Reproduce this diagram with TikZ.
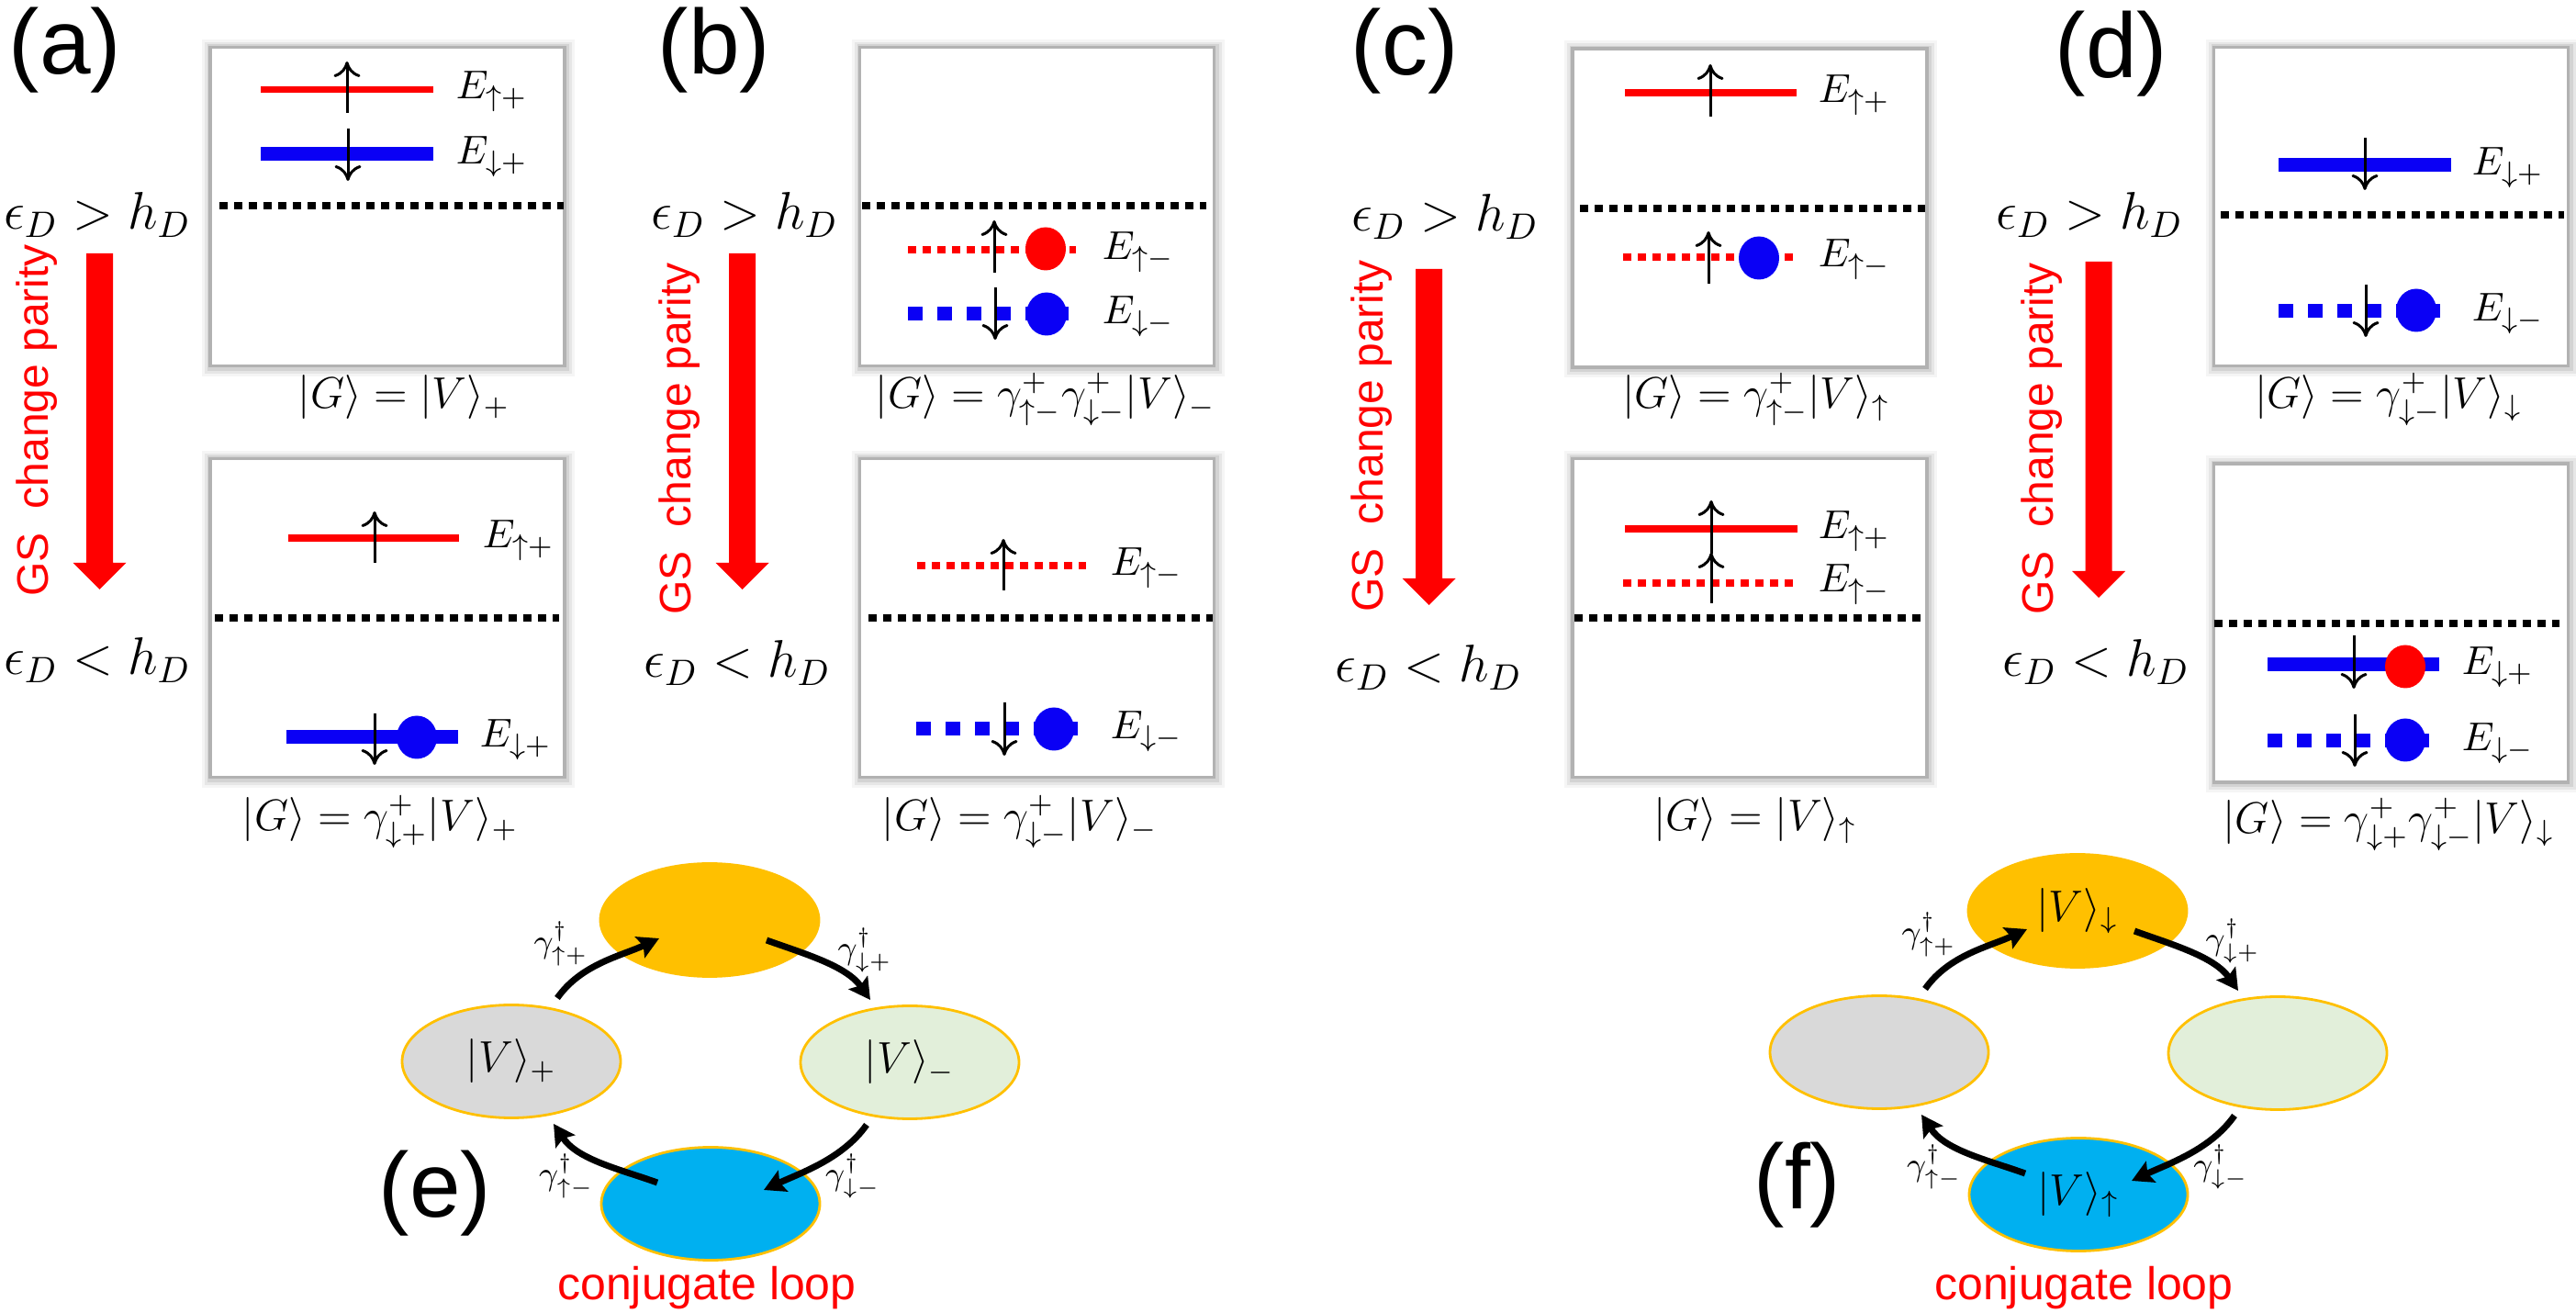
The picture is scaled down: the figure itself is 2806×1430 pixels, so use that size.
\documentclass[tikz,border=0pt]{standalone}
\usepackage{fontspec}
\newfontfamily\hel{Liberation Sans}
\usetikzlibrary{arrows.meta,shapes.geometric}
\definecolor{lvred}{RGB}{255,0,0}
\definecolor{lvblue}{RGB}{10,0,245}
\definecolor{orng}{RGB}{255,192,0}
\definecolor{grayfill}{RGB}{217,217,217}
\definecolor{greenfill}{RGB}{226,239,218}
\definecolor{bluefill}{RGB}{0,176,240}
\definecolor{boxline}{RGB}{178,178,178}
\tikzset{
  ebox/.style={draw=boxline, fill=white, line width=0.8pt, minimum width=96.5pt, minimum height=86.75pt, inner sep=0pt},
  panel/.style={font=\hel\fontsize{25}{30}\selectfont, inner sep=0pt},
  cond/.style={font=\fontsize{14.5}{17}\selectfont, inner sep=0pt, anchor=base},
  elab/.style={font=\fontsize{11}{13}\selectfont, inner sep=0pt, anchor=base west},
  gslab/.style={font=\fontsize{12}{14}\selectfont, inner sep=0pt, anchor=base},
  gstext/.style={font=\hel\fontsize{12}{14}\selectfont, text=lvred, rotate=90, inner sep=0pt},
  redsolid/.style={draw=lvred, line width=1.9pt},
  bluesolid/.style={draw=lvblue, line width=3.75pt},
  reddot/.style={draw=lvred, line width=2pt, dash pattern=on 2.25pt off 1.75pt},
  bluedash/.style={draw=lvblue, line width=3.75pt, dash pattern=on 4pt off 4pt},
  fermi/.style={draw=black, line width=2pt, dash pattern=on 2.25pt off 1.75pt},
  spin/.style={draw=black, line width=0.75pt, -{Computer Modern Rightarrow[length=4.25pt,width=7.25pt]}},
  dotblue/.style={ellipse, fill=lvblue, minimum width=11pt, minimum height=11.75pt, inner sep=0pt},
  dotred/.style={ellipse, fill=lvred, minimum width=11pt, minimum height=11.75pt, inner sep=0pt},
  loopell/.style={ellipse, minimum width=59.5pt, minimum height=30.75pt, inner sep=0pt, line width=0.7pt, font=\fontsize{12}{14}\selectfont},
  looparrow/.style={draw=black, line width=1.75pt, -{Stealth[length=5.75pt,width=6.25pt,inset=1pt]}},
  glab/.style={font=\fontsize{9}{11}\selectfont, inner sep=0pt},
  conj/.style={font=\hel\fontsize{12.5}{15}\selectfont, text=lvred, inner sep=0pt}
}
\newcommand\gsarrow[3]{\fill[lvred] (#1-14.5,#2) -- (#1+14.5,#2) -- (#1+14.5,#3) -- (#1+29,#3) -- (#1,#3+29) -- (#1-29,#3) -- (#1-14.5,#3) -- cycle;}
\newcommand\loopdiag[5]{%
  \node[loopell, fill=orng, draw=orng] (#1top) at (0,0) {#2};
  \node[loopell, fill=grayfill, draw=orng] (#1left) at (-216,154) {#3};
  \node[loopell, fill=greenfill, draw=orng] (#1right) at (218,155) {#4};
  \node[loopell, fill=bluefill, draw=orng] (#1bot) at (1,309) {#5};
  \coordinate (#1a1s) at (-166,85);  \coordinate (#1a1e) at (-55,20);
  \coordinate (#1a2s) at (62,22);    \coordinate (#1a2e) at (175,87);
  \coordinate (#1a3s) at (171,223);  \coordinate (#1a3e) at (59,294);
  \coordinate (#1a4s) at (-57,286);  \coordinate (#1a4e) at (-170,222);
  \draw[looparrow] (#1a1s) .. controls +(26,-37) and +(-41,19) .. (#1a1e);
  \draw[looparrow] (#1a2s) .. controls +(42,15) and +(-26,-37) .. (#1a2e);
  \draw[looparrow] (#1a3s) .. controls +(-26,37) and +(41,-19) .. (#1a3e);
  \draw[looparrow] (#1a4s) .. controls +(-42,-15) and +(26,39) .. (#1a4e);
  \node[glab] (#1g1) at (-162,26) {$\gamma^\dagger_{\uparrow+}$};
  \node[glab] (#1g2) at (169,33) {$\gamma^\dagger_{\downarrow+}$};
  \node[glab] (#1g3) at (-156,279) {$\gamma^\dagger_{\uparrow-}$};
  \node[glab] (#1g4) at (156,279) {$\gamma^\dagger_{\downarrow-}$};
}
\begin{document}
\begin{tikzpicture}[x=0.25pt,y=-0.25pt]
\fill[white] (0,0) rectangle (2806,1430);
\useasboundingbox (0,0) rectangle (2806,1430);
% boxes with soft shadow
\foreach \cx/\cy/\nm in {422/225/ta, 422/673/ba, 1129.5/225/tb, 1129.5/673/bb, 1906/226.5/tc, 1906/673/bc, 2604.5/225/td, 2604.5/678.5/bd}{
  \fill[black,opacity=0.04] (\cx-202,\cy-182) rectangle (\cx+204,\cy+185);
  \fill[black,opacity=0.06] (\cx-199,\cy-179) rectangle (\cx+201,\cy+182);
  \fill[black,opacity=0.08] (\cx-196,\cy-176.5) rectangle (\cx+198,\cy+179);
  \node[ebox] (\nm) at (\cx,\cy) {};
}
% panel labels
\node[panel] (la) at (71,55) {(a)};
\node[panel] (lb) at (778,55) {(b)};
\node[panel] (lc) at (1530,56) {(c)};
\node[panel] (ld) at (2300,59) {(d)};
\node[panel] (le) at (474,1300) {(e)};
\node[panel] (lf) at (1958,1291) {(f)};
% conditions
\node[cond] (ca1) at (106,250) {$\epsilon_D > h_D$};
\node[cond] (ca2) at (106,735) {$\epsilon_D < h_D$};
\node[cond] (cb1) at (811,250) {$\epsilon_D > h_D$};
\node[cond] (cb2) at (803,738) {$\epsilon_D < h_D$};
\node[cond] (cc1) at (1574,252) {$\epsilon_D > h_D$};
\node[cond] (cc2) at (1556,743) {$\epsilon_D < h_D$};
\node[cond] (cd1) at (2276,250) {$\epsilon_D > h_D$};
\node[cond] (cd2) at (2283,737) {$\epsilon_D < h_D$};
% red arrows and GS text
\gsarrow{108.5}{276}{613}
\gsarrow{808.5}{276}{613}
\gsarrow{1556.5}{293}{630}
\gsarrow{2286}{285}{622}
\node[gstext] (gsa) at (40,458) {GS\hspace{0.55em}change parity};
\node[gstext] (gsb) at (740,478) {GS\hspace{0.55em}change parity};
\node[gstext] (gsc) at (1494,475) {GS\hspace{0.55em}change parity};
\node[gstext] (gsd) at (2224,478) {GS\hspace{0.55em}change parity};
% ground-state labels
\node[gslab] (ga1) at (440,445) {$|G\rangle = |V\rangle_+$};
\node[gslab] (ga2) at (414,905) {$|G\rangle = \gamma^+_{\downarrow+}|V\rangle_+$};
\node[gslab] (gb1) at (1139,445) {$|G\rangle = \gamma^+_{\uparrow-}\gamma^+_{\downarrow-}|V\rangle_-$};
\node[gslab] (gb2) at (1111,905) {$|G\rangle = \gamma^+_{\downarrow-}|V\rangle_-$};
\node[gslab] (gc1) at (1913,445) {$|G\rangle = \gamma^+_{\uparrow-}|V\rangle_\uparrow$};
\node[gslab] (gc2) at (1912,905) {$|G\rangle = |V\rangle_\uparrow$};
\node[gslab] (gd1) at (2602,445) {$|G\rangle = \gamma^+_{\downarrow-}|V\rangle_\downarrow$};
\node[gslab] (gd2) at (2602,908) {$|G\rangle = \gamma^+_{\downarrow+}\gamma^+_{\downarrow-}|V\rangle_\downarrow$};
% ---- panel (a) top
\draw[redsolid] (284,97.5) -- (472,97.5);
\draw[bluesolid] (284,168) -- (472,168);
\draw[spin] (378,123) -- (378,67);
\draw[spin] (379,140) -- (379,197);
\node[elab] (ea1) at (496,108) {$E_{\uparrow+}$};
\node[elab] (ea2) at (496,179) {$E_{\downarrow+}$};
\draw[fermi] (239,224) -- (614,224);
% ---- panel (a) bottom
\draw[redsolid] (314,586) -- (500,586);
\draw[spin] (408,613) -- (408,557);
\node[elab] (ea3) at (525,597) {$E_{\uparrow+}$};
\draw[fermi] (234,673) -- (609,673);
\draw[bluesolid] (312,803) -- (499,803);
\node[dotblue] (da1) at (454,803) {};
\draw[spin] (408,777) -- (408,833);
\node[elab] (ea4) at (522,814) {$E_{\downarrow+}$};
% ---- panel (b) top
\draw[fermi] (939,224) -- (1314,224);
\draw[reddot] (989,272) -- (1172,272);
\node[dotred] (db1) at (1139,271) {};
\draw[spin] (1083,297) -- (1083,240);
\node[elab] (eb1) at (1200,283) {$E_{\uparrow-}$};
\draw[bluedash] (989,342) -- (1164,342);
\node[dotblue] (db2) at (1140,342) {};
\draw[spin] (1084,313) -- (1084,370);
\node[elab] (eb2) at (1200,353) {$E_{\downarrow-}$};
% ---- panel (b) bottom
\draw[reddot] (999,616) -- (1183,616);
\draw[spin] (1093,643) -- (1093,587);
\node[elab] (eb3) at (1209,627) {$E_{\uparrow-}$};
\draw[fermi] (946,673) -- (1321,673);
\draw[bluedash] (998,794) -- (1174,794);
\node[dotblue] (db3) at (1148,794) {};
\draw[spin] (1094,765) -- (1094,823);
\node[elab] (eb4) at (1209,805) {$E_{\downarrow-}$};
% ---- panel (c) top
\draw[redsolid] (1770,101) -- (1957,101);
\draw[spin] (1863,127) -- (1863,70);
\node[elab] (ec1) at (1980,112) {$E_{\uparrow+}$};
\draw[fermi] (1721,227) -- (2097,227);
\draw[reddot] (1768,280) -- (1954,280);
\node[dotblue] (dc1) at (1916,281) {};
\draw[spin] (1861,309) -- (1861,252);
\node[elab] (ec2) at (1980,291) {$E_{\uparrow-}$};
% ---- panel (c) bottom
\draw[redsolid] (1770,576) -- (1958,576);
\draw[reddot] (1768,635) -- (1954,635);
\draw[spin] (1864,603) -- (1864,545);
\draw[spin] (1864,657) -- (1864,602);
\node[elab] (ec3) at (1980,587) {$E_{\uparrow+}$};
\node[elab] (ec4) at (1980,645) {$E_{\uparrow-}$};
\draw[fermi] (1715,673) -- (2097,673);
% ---- panel (d) top
\draw[bluesolid] (2482,180) -- (2670,180);
\draw[spin] (2576,150) -- (2576,207);
\node[elab] (ed1) at (2692,191) {$E_{\downarrow+}$};
\draw[fermi] (2419,234) -- (2793,234);
\draw[bluedash] (2482,339) -- (2658,339);
\node[dotblue] (dd1) at (2632,338) {};
\draw[spin] (2577,310) -- (2577,367);
\node[elab] (ed2) at (2692,350) {$E_{\downarrow-}$};
% ---- panel (d) bottom
\draw[fermi] (2412,679) -- (2788,679);
\draw[bluesolid] (2470,724) -- (2657,724);
\node[dotred] (dd2) at (2620,726) {};
\draw[spin] (2564,692) -- (2564,750);
\node[elab] (ed3) at (2681,735) {$E_{\downarrow+}$};
\draw[bluedash] (2470,807) -- (2646,807);
\node[dotblue] (dd3) at (2620,806) {};
\draw[spin] (2565,778) -- (2565,835);
\node[elab] (ed4) at (2681,818) {$E_{\downarrow-}$};
% ---- loops
\begin{scope}[shift={(773,1002)}]
\loopdiag{e}{}{$|V\rangle_+$}{$|V\rangle_-$}{}
\end{scope}
\begin{scope}[shift={(2263,992)}]
\loopdiag{f}{$|V\rangle_\downarrow$}{}{}{$|V\rangle_\uparrow$}
\end{scope}
\node[conj] (cje) at (770,1403) {conjugate loop};
\node[conj] (cjf) at (2270,1403) {conjugate loop};
\end{tikzpicture}
\end{document}
